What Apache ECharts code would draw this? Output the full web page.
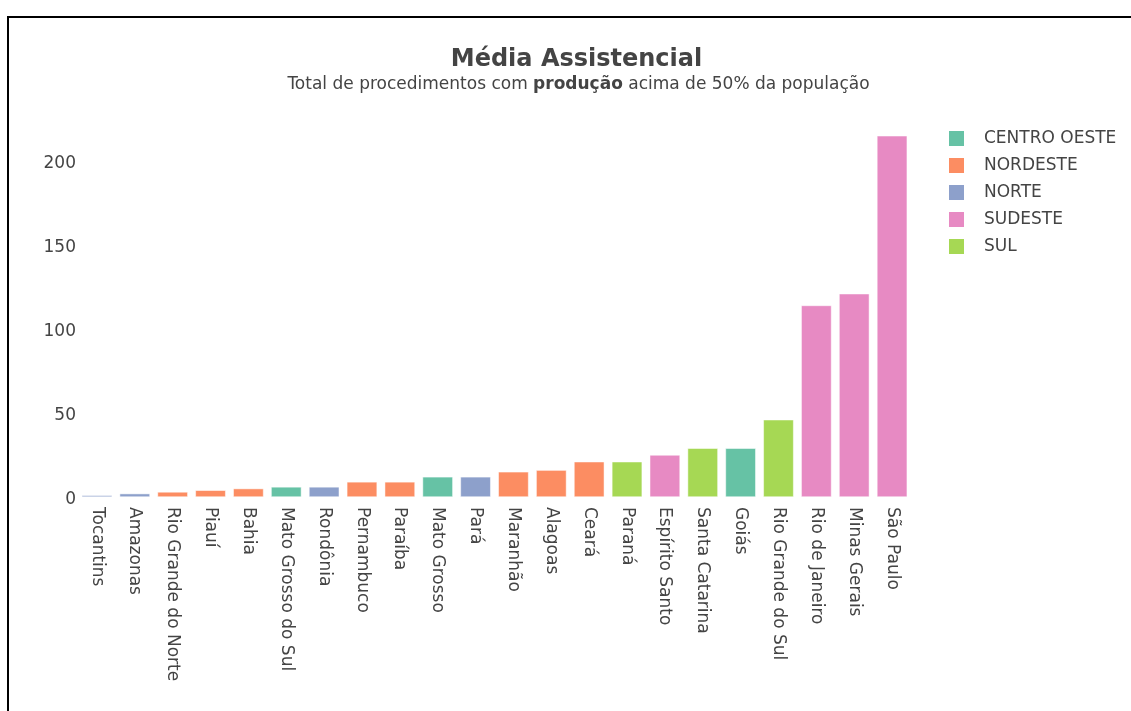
<!DOCTYPE html>
<html>
<head>
<meta charset="utf-8">
<script src="https://cdn.jsdelivr.net/npm/echarts@6/dist/echarts.min.js"></script>
<style>
html,body{margin:0;padding:0;background:#fff;}
#frame{position:absolute;left:7px;top:16px;width:1200px;height:800px;border:2px solid #000;box-sizing:border-box;}
#chart{position:absolute;left:0;top:0;width:1131px;height:711px;}
</style>
</head>
<body>
<div id="frame"></div>
<div id="chart"></div>
<script>
const categories = ["Tocantins","Amazonas","Rio Grande do Norte","Piauí","Bahia","Mato Grosso do Sul","Rondônia","Pernambuco","Paraíba","Mato Grosso","Pará","Maranhão","Alagoas","Ceará","Paraná","Espírito Santo","Santa Catarina","Goiás","Rio Grande do Sul","Rio de Janeiro","Minas Gerais","São Paulo"];
const values = [1,2,3,4,5,6,6,9,9,12,12,15,16,21,21,25,29,29,46,114,121,215];
const regions = ["NORTE","NORTE","NORDESTE","NORDESTE","NORDESTE","CENTRO OESTE","NORTE","NORDESTE","NORDESTE","CENTRO OESTE","NORTE","NORDESTE","NORDESTE","NORDESTE","SUL","SUDESTE","SUL","CENTRO OESTE","SUL","SUDESTE","SUDESTE","SUDESTE"];
const regionNames = ["CENTRO OESTE","NORDESTE","NORTE","SUDESTE","SUL"];
const regionColors = ["#66c2a5","#fc8d62","#8da0cb","#e78ac3","#a6d854"];
const yTicks = [0,50,100,150,200];

const FONT = "DejaVu Sans";
const series = regionNames.map((r, i) => ({
  name: r,
  type: 'bar',
  barGap: '-100%',
  barCategoryGap: '20%',
  itemStyle: {color: regionColors[i], borderColor: '#fff', borderWidth: 0.5},
  data: values.map((v, k) => regions[k] === r ? v : null)
}));

const chart = echarts.init(document.getElementById('chart'), null, {renderer: 'canvas'});
chart.setOption({
  animation: false,
  backgroundColor: 'transparent',
  textStyle: {fontFamily: FONT},
  title: [{
    text: 'Média Assistencial',
    left: 571.5, top: 43, textAlign: 'center',
    textStyle: {fontFamily: FONT, fontSize: 24, fontWeight: 'bold', color: '#444'}
  }, {
    text: 'Total de procedimentos com {b|produção} acima de 50% da população',
    left: 573.5, top: 71, textAlign: 'center',
    textStyle: {fontFamily: FONT, fontSize: 17, fontWeight: 'normal', color: '#444',
      rich: {b: {fontFamily: FONT, fontSize: 17, fontWeight: 'bold', color: '#444'}}}
  }],
  legend: {
    orient: 'vertical',
    left: 942, top: 124,
    itemWidth: 17, itemHeight: 17, itemGap: 8,
    icon: 'rect',
    textStyle: {fontFamily: FONT, fontSize: 17, color: '#444', padding: [0,0,0,14]},
    data: regionNames
  },
  grid: {left: 78, right: 220, top: 127.4, bottom: 214, containLabel: false},
  xAxis: {
    type: 'category',
    data: categories,
    axisLine: {show: false},
    axisTick: {show: false},
    axisLabel: {rotate: -90, interval: 0, margin: 10, fontFamily: FONT, fontSize: 17, color: '#444'}
  },
  yAxis: {
    type: 'value',
    min: 0, max: 220, interval: 50,
    splitLine: {show: false},
    axisLine: {show: false},
    axisTick: {show: false},
    axisLabel: {
      margin: 2, fontFamily: FONT, fontSize: 17, color: '#444',
      formatter: v => yTicks.includes(v) ? '{a|' + v + '}' : '',
      rich: {a: {fontFamily: FONT, fontSize: 17, color: '#444', padding: [6,0,0,0]}}
    }
  },
  series: series
});
</script>
</body>
</html>
